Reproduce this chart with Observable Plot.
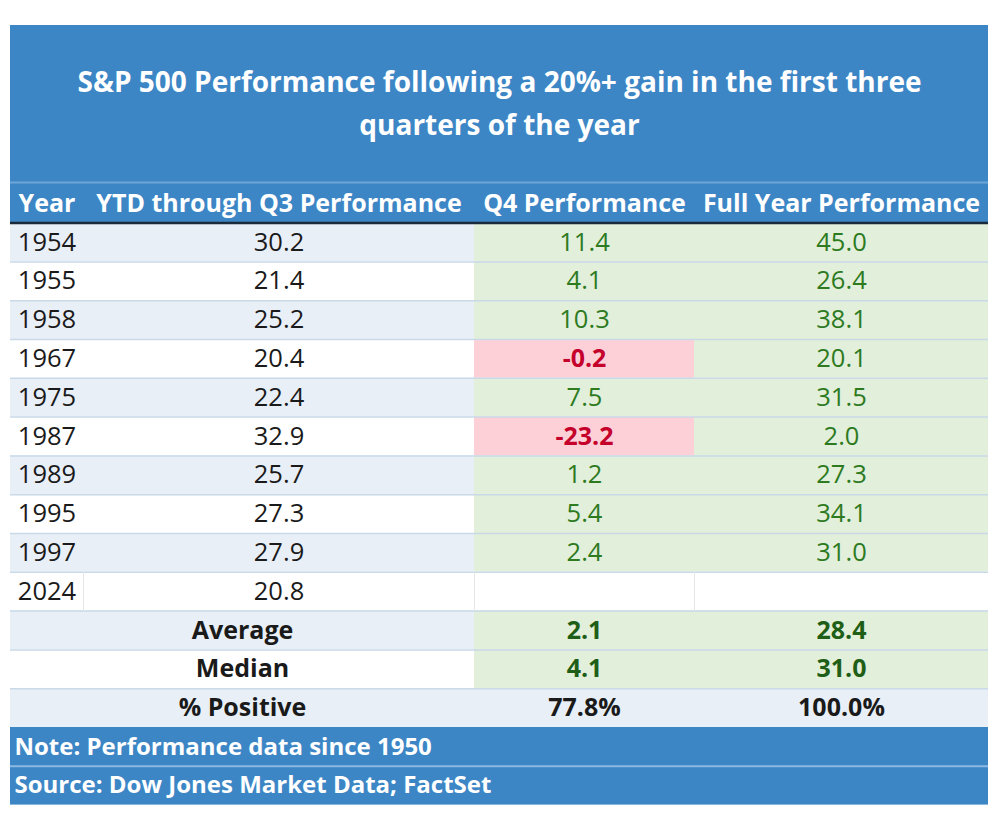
<!DOCTYPE html>
<html>
<head>
<meta charset="utf-8">
<script src="https://cdn.jsdelivr.net/npm/d3@7"></script>
<script src="https://cdn.jsdelivr.net/npm/@observablehq/plot@0.6"></script>
<style>
  html, body { margin: 0; padding: 0; background: #ffffff; }
  #chart svg { display: block; }
</style>
</head>
<body>
<div id="chart"></div>
<script>
// ---- Data ----
const titleLines = ["S&P 500 Performance following a 20%+ gain in the first three", "quarters of the year"];
const headers = ["Year", "YTD through Q3 Performance", "Q4 Performance", "Full Year Performance"];
const years = ["1954", "1955", "1958", "1967", "1975", "1987", "1989", "1995", "1997", "2024"];
const ytd = [30.2, 21.4, 25.2, 20.4, 22.4, 32.9, 25.7, 27.3, 27.9, 20.8];
const q4 = [11.4, 4.1, 10.3, -0.2, 7.5, -23.2, 1.2, 5.4, 2.4, null];
const fullYear = [45.0, 26.4, 38.1, 20.1, 31.5, 2.0, 27.3, 34.1, 31.0, null];
const summaryLabels = ["Average", "Median", "% Positive"];
const summaryQ4 = ["2.1", "4.1", "77.8%"];
const summaryFull = ["28.4", "31.0", "100.0%"];
const footnotes = ["Note: Performance data since 1950", "Source: Dow Jones Market Data; FactSet"];

// ---- Layout (not data) ----
const colEdges = [10, 83, 474, 694, 988];
const tableTop = 25, headerTop = 182, bodyTop = 222.6, rowH = 38.8;
const font = "'Open Sans', Lato, sans-serif";
const C = {
  blue: "#3c86c6", lightBlue: "#e9eff7", white: "#ffffff", green: "#e2efda",
  pink: "#fdd0d8", greenText: "#2d7a1f", redText: "#c4002b", dark: "#1a1a1a",
  grid: "#c9d9e8"
};
const rowTop = i => bodyTop + i * rowH;

// ---- Build cell table ----
const bgCells = [];
const texts = [];
years.forEach((yr, i) => {
  const left = i === years.length - 1 ? C.white : (i % 2 === 0 ? C.lightBlue : C.white);
  bgCells.push({x1: colEdges[0], x2: colEdges[2], y1: rowTop(i), y2: rowTop(i + 1), fill: left});
  [q4[i], fullYear[i]].forEach((v, k) => {
    const fill = v == null ? C.white : (v < 0 ? C.pink : C.green);
    bgCells.push({x1: colEdges[2 + k], x2: colEdges[3 + k], y1: rowTop(i), y2: rowTop(i + 1), fill});
    if (v != null) texts.push({x: (colEdges[2 + k] + colEdges[3 + k]) / 2, y: rowTop(i + 0.5), text: v.toFixed(1), fill: v < 0 ? C.redText : C.greenText, bold: v < 0});
  });
  texts.push({x: (colEdges[0] + colEdges[1]) / 2, y: rowTop(i + 0.5), text: yr, fill: C.dark, bold: false});
  texts.push({x: (colEdges[1] + colEdges[2]) / 2, y: rowTop(i + 0.5), text: ytd[i].toFixed(1), fill: C.dark, bold: false});
});
summaryLabels.forEach((lab, j) => {
  const i = years.length + j;
  const left = j === 1 ? C.white : C.lightBlue;
  const right = j === 2 ? C.lightBlue : C.green;
  bgCells.push({x1: colEdges[0], x2: colEdges[2], y1: rowTop(i), y2: rowTop(i + 1), fill: left});
  bgCells.push({x1: colEdges[2], x2: colEdges[4], y1: rowTop(i), y2: rowTop(i + 1), fill: right});
  texts.push({x: (colEdges[0] + colEdges[2]) / 2, y: rowTop(i + 0.5), text: lab, fill: C.dark, bold: true});
  const tc = j === 2 ? C.dark : "#1f5e16";
  texts.push({x: (colEdges[2] + colEdges[3]) / 2, y: rowTop(i + 0.5), text: summaryQ4[j], fill: tc, bold: true});
  texts.push({x: (colEdges[3] + colEdges[4]) / 2, y: rowTop(i + 0.5), text: summaryFull[j], fill: tc, bold: true});
});
const nBody = years.length + summaryLabels.length;
const footTop = rowTop(nBody);

// blue areas
const blueAreas = [
  {x1: colEdges[0], x2: colEdges[4], y1: tableTop, y2: bodyTop},
  {x1: colEdges[0], x2: colEdges[4], y1: footTop, y2: rowTop(nBody + footnotes.length)}
];
// horizontal grid lines between body rows
const hLines = d3.range(1, nBody).map(i => ({y: rowTop(i)}));
const footLines = [{y: rowTop(nBody + 1)}];

const headerCenters = [
  (colEdges[0] + colEdges[1]) / 2, (colEdges[1] + colEdges[2]) / 2,
  (colEdges[2] + colEdges[3]) / 2, (colEdges[3] + colEdges[4]) / 2
];
const headerData = headers.map((h, k) => ({x: headerCenters[k], y: 203, text: h}));
const titleData = titleLines.map((t, k) => ({x: (colEdges[0] + colEdges[4]) / 2, y: 83 + k * 43, text: t}));
const footData = footnotes.map((t, k) => ({x: 14, y: rowTop(nBody + k + 0.5), text: t}));

const chart = Plot.plot({
  width: 1000, height: 840, margin: 0,
  x: {type: "linear", domain: [0, 1000], range: [0, 1000], axis: null},
  y: {type: "linear", domain: [0, 840], range: [0, 840], axis: null},
  color: {type: "identity"},
  style: {fontFamily: font, background: "#ffffff"},
  marks: [
    Plot.rect(blueAreas, {x1: "x1", x2: "x2", y1: "y1", y2: "y2", fill: C.blue}),
    Plot.rect(bgCells, {x1: "x1", x2: "x2", y1: "y1", y2: "y2", fill: "fill"}),
    Plot.ruleY(hLines, {y: "y", x1: colEdges[0], x2: colEdges[4], stroke: C.grid, strokeWidth: 1.5}),
    Plot.ruleY([{y: headerTop}], {y: "y", x1: colEdges[0], x2: colEdges[4], stroke: "#6fa6d8", strokeWidth: 2}),
    Plot.ruleY(footLines, {y: "y", x1: colEdges[0], x2: colEdges[4], stroke: "#8bb8e2", strokeWidth: 2}),
    Plot.ruleY([{y: bodyTop}], {y: "y", x1: colEdges[0], x2: colEdges[4], stroke: "#1b2a3a", strokeWidth: 2.5}),
    Plot.ruleX([{x: colEdges[1]}], {x: "x", y1: rowTop(9), y2: rowTop(10), stroke: "#e6e6e6"}),
    Plot.ruleX([{x: colEdges[3]}], {x: "x", y1: rowTop(9), y2: rowTop(10), stroke: "#e6e6e6"}),
    Plot.ruleX([{x: colEdges[2]}], {x: "x", y1: rowTop(9), y2: rowTop(10), stroke: "#e6e6e6"}),
    Plot.text(titleData, {x: "x", y: "y", text: "text", fill: "white", fontSize: 28, fontWeight: "bold", textAnchor: "middle"}),
    Plot.text(headerData, {x: "x", y: "y", text: "text", fill: "white", fontSize: 25, fontWeight: "bold", textAnchor: "middle"}),
    Plot.text(texts.filter(d => !d.bold), {x: "x", y: "y", text: "text", fill: "fill", fontSize: 25.5, textAnchor: "middle"}),
    Plot.text(texts.filter(d => d.bold), {x: "x", y: "y", text: "text", fill: "fill", fontSize: 25, fontWeight: "bold", textAnchor: "middle"}),
    Plot.text(footData, {x: "x", y: "y", text: "text", fill: "white", fontSize: 24, fontWeight: "bold", textAnchor: "start"})
  ]
});
document.getElementById("chart").appendChild(chart);
</script>
</body>
</html>
